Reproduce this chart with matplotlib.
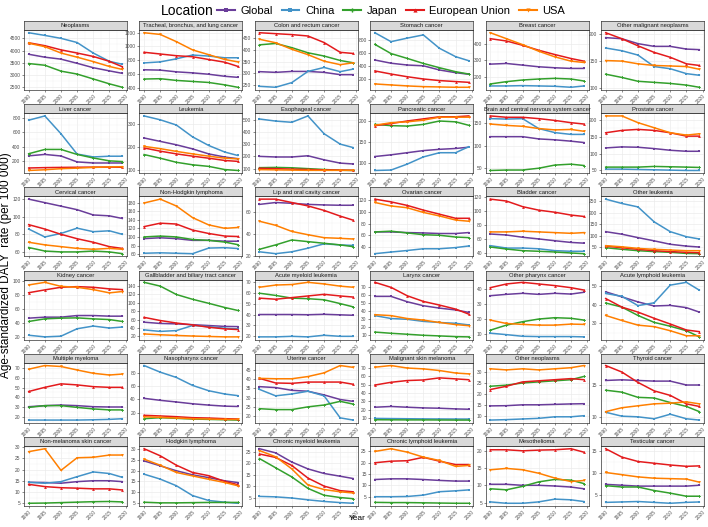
import matplotlib
matplotlib.use("Agg")
import matplotlib.pyplot as plt
from matplotlib.lines import Line2D
from matplotlib.ticker import AutoMinorLocator

plt.rcParams['font.family'] = ['Liberation Sans', 'DejaVu Sans']

years = [1990, 1995, 2000, 2005, 2010, 2015, 2019]
locations = ['Global', 'China', 'Japan', 'European Union', 'USA']
x_ticks = [1990, 1995, 2000, 2005, 2010, 2015, 2020]

# each panel: rows in the order of `locations`
neoplasms = [
    [3850, 3730, 3650, 3480, 3300, 3170, 3070],
    [4730, 4620, 4500, 4330, 3900, 3560, 3440],
    [3470, 3400, 3160, 3040, 2840, 2640, 2500],
    [4320, 4200, 4030, 3900, 3760, 3560, 3340],
    [4300, 4160, 3900, 3730, 3550, 3350, 3230],
]
lung = [
    [660, 655, 630, 615, 595, 565, 550],
    [760, 775, 820, 875, 860, 835, 835],
    [525, 530, 505, 490, 475, 440, 405],
    [915, 890, 865, 850, 810, 770, 710],
    [1200, 1175, 1070, 950, 880, 810, 775],
]
colorectal = [
    [307, 304, 308, 308, 304, 294, 294],
    [244, 240, 260, 308, 325, 307, 318],
    [422, 428, 410, 388, 374, 355, 345],
    [474, 470, 466, 460, 432, 390, 385],
    [446, 431, 403, 380, 352, 337, 345],
]
stomach = [
    [490, 440, 412, 400, 335, 293, 268],
    [914, 775, 830, 880, 672, 542, 480],
    [733, 590, 515, 437, 370, 308, 272],
    [320, 272, 230, 195, 170, 155, 143],
    [118, 102, 87, 76, 71, 66, 66],
]
breast = [
    [276, 280, 270, 260, 254, 250, 250],
    [144, 144, 146, 144, 142, 136, 144],
    [156, 170, 180, 186, 190, 186, 174],
    [430, 416, 390, 360, 334, 310, 294],
    [466, 430, 394, 354, 320, 294, 286],
]
other_malignant = [
    [193, 191, 182, 177, 177, 172, 171],
    [174, 169, 161, 140, 136, 127, 124],
    [126, 120, 113, 111, 109, 106, 102],
    [202, 191, 178, 166, 157, 145, 142],
    [151, 150, 145, 142, 141, 140, 135],
]
liver = [
    [270, 290, 268, 185, 170, 170, 170],
    [770, 830, 580, 295, 255, 265, 265],
    [300, 360, 360, 290, 240, 200, 190],
    [100, 105, 108, 110, 112, 112, 110],
    [65, 75, 90, 98, 108, 115, 118],
]
leukemia = [
    [240, 225, 210, 192, 170, 156, 149],
    [337, 320, 297, 245, 207, 178, 163],
    [167, 151, 133, 122, 115, 101, 97],
    [196, 182, 170, 160, 151, 141, 137],
    [203, 193, 181, 170, 160, 151, 148],
]
esophageal = [
    [200, 195, 195, 205, 172, 145, 138],
    [505, 488, 478, 530, 385, 300, 272],
    [108, 110, 107, 100, 93, 87, 85],
    [103, 100, 96, 93, 90, 88, 86],
    [92, 90, 88, 86, 86, 86, 86],
]
pancreatic = [
    [116, 120, 125, 130, 133, 135, 138],
    [83, 84, 98, 115, 125, 125, 139],
    [192, 189, 188, 192, 200, 198, 190],
    [189, 194, 200, 205, 210, 210, 212],
    [190, 196, 198, 202, 209, 209, 209],
]
brain = [
    [120, 120, 120, 115, 113, 110, 107],
    [160, 159, 160, 138, 129, 125, 125],
    [45, 46, 46, 50, 57, 59, 56],
    [166, 163, 163, 160, 156, 151, 148],
    [148, 145, 143, 138, 135, 136, 132],
]
prostate = [
    [117, 120, 119, 115, 110, 107, 107],
    [54, 54, 53, 52, 51, 50, 50],
    [60, 60, 60, 62, 61, 60, 59],
    [162, 169, 172, 169, 162, 152, 152],
    [212, 212, 192, 177, 162, 155, 159],
]
cervical = [
    [120, 116, 112, 108, 102, 101, 98],
    [86, 77, 81, 87, 83, 84, 80],
    [65, 61, 60, 60, 61, 60, 58],
    [91, 86, 80, 75, 71, 66, 64],
    [71, 68, 66, 64, 63, 64, 63],
]
nhl = [
    [96, 98, 96, 92, 92, 90, 90],
    [62, 63, 62, 61, 74, 75, 73],
    [100, 102, 100, 94, 92, 88, 82],
    [124, 132, 130, 116, 108, 102, 101],
    [179, 188, 172, 145, 128, 120, 122],
]
lip_oral = [
    [67, 68.7, 68, 67, 66.5, 66.2, 66.2],
    [23.7, 22, 23.7, 27, 31, 30, 29.5],
    [26, 30, 34.5, 33, 31.5, 30, 28.4],
    [71.8, 71.8, 68.7, 65.6, 61.5, 56.3, 52.6],
    [51.6, 47.9, 42.3, 39.3, 36.6, 36, 35.4],
]
ovarian = [
    [65.7, 65.7, 64.6, 64, 63, 63, 64.6],
    [28.6, 31.4, 34, 37, 37, 39, 41.7],
    [65.7, 67, 64, 61, 60, 57, 56],
    [121.7, 117, 111, 103, 96, 89, 89],
    [116, 110, 107, 99, 93, 86, 84],
]
bladder = [
    [67, 65.6, 62.4, 60, 57.4, 55, 54],
    [50.4, 47, 47, 46, 43.3, 42.4, 42.4],
    [48.5, 45.6, 43.3, 42.4, 41.4, 40, 39],
    [116.7, 114, 106, 101, 98, 94, 92],
    [70, 70, 71, 70, 69, 68, 69],
]
other_leukemia = [
    [117, 106, 91, 77, 62, 54, 50],
    [259, 240, 225, 160, 117, 95, 85],
    [47, 40, 34, 30, 27, 22, 21],
    [54, 47, 40, 34, 30, 27, 25],
    [56, 51, 44, 40, 37, 34, 34],
]
kidney = [
    [47, 48.4, 48.4, 50.7, 50.7, 49.8, 49.8],
    [22.8, 20.5, 21.5, 32, 35.8, 33, 34.4],
    [42.3, 46, 47, 47.4, 46, 45, 42.3],
    [83, 87, 90.7, 91.6, 90.7, 88.4, 87.4],
    [94, 97.7, 92, 90.7, 87.4, 82.8, 84.7],
]
gallbladder = [
    [54, 51, 50, 48, 46, 44, 43.5],
    [35.7, 32, 34, 46, 43.5, 39.6, 38],
    [149, 140, 120, 108.6, 99, 89, 82],
    [65.5, 58, 52, 47.5, 42, 38, 36.5],
    [26, 24, 22.4, 21, 20, 19, 19],
]
aml = [
    [40, 40, 40, 39.8, 40.2, 39.7, 39.3],
    [19.5, 19.5, 20, 19.5, 21, 20, 20],
    [59.5, 57.5, 55, 54.5, 53.5, 50, 47],
    [55, 54, 55.5, 57, 58.5, 57, 56],
    [65, 67, 67.5, 69.5, 68, 66, 65],
]
larynx = [
    [58.7, 58.7, 52, 47, 44, 41.7, 38.7],
    [34.6, 31, 30, 27.4, 26, 25, 23],
    [14, 12.5, 11.3, 10, 9.2, 8.3, 8],
    [76.3, 70, 59.5, 52.4, 47.8, 42.8, 36.6],
    [35.8, 34.6, 31, 29, 26, 23.4, 22],
]
other_pharynx = [
    [35.7, 36.6, 37.3, 36.6, 37.3, 36.8, 38],
    [10.5, 9.5, 8.4, 8.2, 8.2, 8.2, 8],
    [12.5, 15.9, 18.2, 20, 20.9, 20.5, 19.3],
    [41.1, 43.6, 44.7, 43.6, 42.5, 41.1, 39.5],
    [19.3, 17, 16.4, 15.9, 15.9, 16.6, 16.4],
]
all_leukemia = [
    [46.9, 44.2, 41.5, 39.3, 39.6, 38.4, 36],
    [46, 44.5, 39.5, 41, 50.5, 52, 47.8],
    [40.9, 38.7, 34.2, 30.5, 28.4, 26, 22.7],
    [43.3, 38.7, 36, 32.7, 29.6, 26.4, 25.5],
    [34.2, 31.5, 29, 28.2, 26, 23.3, 23.3],
]
myeloma = [
    [30.3, 31.4, 32, 31.4, 30.3, 30, 30],
    [16.5, 16.5, 16.5, 16.5, 16.8, 17.2, 17.9],
    [29.6, 31.4, 31.4, 29.6, 28, 27, 27],
    [46, 50.3, 53.9, 52.8, 51, 50.3, 50.3],
    [69, 72.8, 71.8, 68.2, 64.8, 63, 64],
]
nasopharynx = [
    [41.5, 38.5, 36, 33.3, 31.3, 29.7, 29.2],
    [91, 81, 73, 61, 53, 48, 45.6],
    [10.8, 12.3, 11.3, 10.3, 9.7, 9.2, 8.7],
    [15.9, 14.9, 13.8, 12.3, 11.8, 10.8, 10.3],
    [13.8, 12.8, 11.8, 10.8, 10.3, 9.7, 9.7],
]
uterine = [
    [36, 35.5, 34, 33.5, 31.5, 29, 28],
    [34.5, 31, 32, 33.5, 31, 19, 17.8],
    [24, 23.5, 23.5, 25, 26, 28, 26.5],
    [40.5, 38, 37.8, 38.5, 38.5, 38.5, 37.3],
    [40.5, 40.3, 40.3, 41.5, 43.5, 47.5, 46.5],
]
melanoma = [
    [23, 23.9, 23, 22.2, 21.8, 21, 20.6],
    [9.6, 9.4, 9.2, 9.0, 8.9, 8.8, 8.8],
    [8, 7.9, 7.8, 7.8, 7.7, 7.6, 7.6],
    [49.6, 52.9, 55, 55.7, 58.2, 57, 56],
    [71, 73, 70, 69, 67, 64, 63],
]
other_neoplasms = [
    [14.5, 14.6, 15, 15, 15.2, 15.4, 15.5],
    [8, 8.2, 8.5, 8.8, 9.5, 9.5, 10],
    [23.5, 24, 25, 25.5, 26, 26.5, 28],
    [22, 23.5, 25.5, 26, 26.5, 27, 26.5],
    [31.5, 31, 31.5, 31, 31.5, 32, 33],
]
thyroid = [
    [15.7, 15.8, 15.7, 15.6, 15.6, 15, 15],
    [10.8, 10.2, 10.1, 9.8, 10.5, 9.8, 9.6],
    [14.2, 13.9, 13.1, 13, 12.3, 11.7, 10.9],
    [18, 17, 15.4, 14.1, 13.4, 12.1, 11.7],
    [10.9, 11.5, 11.8, 12.1, 12.2, 12.4, 12.1],
]
nmsc = [
    [14.4, 14.3, 14, 14.7, 15.1, 15.1, 14.7],
    [14.4, 14, 14.7, 16.9, 19, 18.3, 16.6],
    [5.1, 5.2, 5.4, 5.6, 5.8, 5.9, 5.7],
    [13.5, 12.5, 12, 11.8, 11.5, 11.5, 11],
    [28, 29.3, 19.7, 25.3, 25.5, 26.5, 26.5],
]
hodgkin = [
    [24.6, 22.3, 20, 18.1, 16.8, 15.3, 14.5],
    [18.4, 16.1, 13, 8.4, 6.1, 5.3, 4.8],
    [5.3, 5, 5, 5.1, 5.2, 5.2, 5.2],
    [30.3, 27, 22.6, 19.2, 17.7, 15, 13.5],
    [25.4, 22.6, 19.2, 17.6, 16, 14.5, 13],
]
cml = [
    [26.3, 24.5, 20.5, 17.5, 15.5, 14.3, 13.3],
    [5.5, 5.3, 4.8, 4, 3.3, 2.8, 2.5],
    [22, 18, 14, 9, 6, 5, 4.5],
    [24, 22.5, 19, 13.5, 10, 8, 7.5],
    [25.5, 22.8, 17.5, 10.5, 8.5, 7.5, 7],
]
cll = [
    [12.6, 12.9, 12.9, 12.6, 12.2, 11.9, 11.9],
    [5, 5, 5.1, 5.7, 7.2, 7.6, 8],
    [2.5, 2.4, 2.4, 2.3, 2.2, 2.1, 2.1],
    [20, 20.7, 20.9, 22.4, 20.7, 19.2, 19.2],
    [25, 26.2, 24.7, 22.5, 21, 18.4, 18.8],
]
mesothelioma = [
    [10.3, 10.3, 10, 10, 9.8, 9.5, 9],
    [5.2, 4.8, 4.8, 5.2, 6, 5.8, 5.3],
    [9, 8.7, 9.7, 11, 11.7, 11.5, 10.5],
    [20.3, 20.3, 20, 20.2, 20.3, 20.6, 19.6],
    [14.5, 14.9, 14.5, 13.5, 12.1, 11.1, 11.4],
]
testicular = [
    [7.5, 7.3, 7.1, 7.1, 7.1, 7.1, 7.3],
    [3.4, 3.5, 3.6, 3.4, 3.2, 3.4, 3.5],
    [7.2, 6.9, 6.9, 6.1, 5.5, 4.8, 4.8],
    [15.6, 13.7, 12.7, 12.3, 11.9, 11.6, 11.7],
    [10.2, 9.7, 9.2, 8.9, 8.8, 8.7, 8],
]

panels = [
    ("Neoplasms", neoplasms, [2500, 3000, 3500, 4000, 4500]),
    ("Tracheal, bronchus, and lung cancer", lung, [400, 600, 800, 1000, 1200]),
    ("Colon and rectum cancer", colorectal, [250, 300, 350, 400, 450]),
    ("Stomach cancer", stomach, [200, 400, 600, 800]),
    ("Breast cancer", breast, [200, 300, 400]),
    ("Other malignant neoplasms", other_malignant, [100, 150, 200]),
    ("Liver cancer", liver, [200, 400, 600, 800]),
    ("Leukemia", leukemia, [100, 200, 300]),
    ("Esophageal cancer", esophageal, [100, 200, 300, 400, 500]),
    ("Pancreatic cancer", pancreatic, [100, 150, 200]),
    ("Brain and central nervous system cancer", brain, [50, 100, 150]),
    ("Prostate cancer", prostate, [50, 100, 150, 200]),
    ("Cervical cancer", cervical, [60, 80, 100, 120]),
    ("Non-Hodgkin lymphoma", nhl, [60, 80, 100, 120, 140, 160, 180]),
    ("Lip and oral cavity cancer", lip_oral, [20, 40, 60]),
    ("Ovarian cancer", ovarian, [40, 60, 80, 100, 120]),
    ("Bladder cancer", bladder, [40, 60, 80, 100, 120]),
    ("Other leukemia", other_leukemia, [50, 100, 150, 200, 250]),
    ("Kidney cancer", kidney, [20, 40, 60, 80, 100]),
    ("Gallbladder and biliary tract cancer", gallbladder, [20, 40, 60, 80, 100, 120, 140]),
    ("Acute myeloid leukemia", aml, [20, 30, 40, 50, 60, 70]),
    ("Larynx cancer", larynx, [10, 20, 30, 40, 50, 60, 70]),
    ("Other pharynx cancer", other_pharynx, [10, 20, 30, 40]),
    ("Acute lymphoid leukemia", all_leukemia, [30, 40, 50]),
    ("Multiple myeloma", myeloma, [20, 30, 40, 50, 60, 70]),
    ("Nasopharynx cancer", nasopharynx, [20, 40, 60, 80]),
    ("Uterine cancer", uterine, [20, 25, 30, 35, 40, 45]),
    ("Malignant skin melanoma", melanoma, [10, 20, 30, 40, 50, 60, 70]),
    ("Other neoplasms", other_neoplasms, [10, 15, 20, 25, 30]),
    ("Thyroid cancer", thyroid, [10, 15]),
    ("Non-melanoma skin cancer", nmsc, [5, 10, 15, 20, 25, 30]),
    ("Hodgkin lymphoma", hodgkin, [5, 10, 15, 20, 25, 30]),
    ("Chronic myeloid leukemia", cml, [5, 10, 15, 20, 25]),
    ("Chronic lymphoid leukemia", cll, [5, 10, 15, 20, 25]),
    ("Mesothelioma", mesothelioma, [5, 10, 15, 20]),
    ("Testicular cancer", testicular, [5, 10, 15]),
]

colors = ['#6A3D9A', '#4393C8', '#33A02C', '#E31A1C', '#FF7F00']
markers = ['s', 's', 'P', '^', 'v']

W, H = 708, 527
fig = plt.figure(figsize=(W / 100, H / 100), dpi=100)

for i, (title, series, yt) in enumerate(panels):
    r, c = divmod(i, 6)
    left = 24 + c * 115.4
    top = 21 + r * 83.2
    ax = fig.add_axes([left / W, 1 - (top + 9 + 60) / H, 103 / W, 60 / H])
    st = fig.add_axes([left / W, 1 - (top + 9) / H, 103 / W, 9 / H])
    st.set_facecolor('#D9D9D9')
    st.set_xticks([])
    st.set_yticks([])
    for sp in st.spines.values():
        sp.set_color('#333333')
        sp.set_linewidth(0.5)
    st.text(0.5, 0.45, title, ha='center', va='center', fontsize=4.2,
            color='#1A1A1A', transform=st.transAxes)

    lo = min(min(s) for s in series)
    hi = max(max(s) for s in series)
    pad = (hi - lo) * 0.05
    for s, col, mk in zip(series, colors, markers):
        ax.plot(years, s, color=col, lw=1.1, marker=mk, ms=2.0, mew=0)
    ax.set_xlim(1988.55, 2020.45)
    ax.set_ylim(lo - pad, hi + pad)
    ax.set_xticks(x_ticks)
    ax.set_yticks(yt)
    ax.xaxis.set_minor_locator(AutoMinorLocator(2))
    ax.yaxis.set_minor_locator(AutoMinorLocator(2))
    ax.grid(True, which='major', color='#EBEBEB', lw=0.5)
    ax.grid(True, which='minor', color='#F2F2F2', lw=0.3)
    ax.set_axisbelow(True)
    ax.tick_params(which='major', length=1.5, width=0.4, color='#333333',
                   labelsize=3.5, labelcolor='#4D4D4D', pad=1)
    ax.tick_params(which='minor', length=0)
    for lab in ax.get_xticklabels():
        lab.set_rotation(45)
        lab.set_ha('right')
        lab.set_rotation_mode('anchor')
    for sp in ax.spines.values():
        sp.set_color('#333333')
        sp.set_linewidth(0.5)

fig.text(6 / W, 1 - 265 / H, 'Age-standardized DALY  rate (per 100 000)',
         rotation=90, ha='center', va='center', fontsize=8.5)
fig.text(357 / W, 1 - 518 / H, 'Year', ha='center', va='center', fontsize=6)

fig.text(161 / W, 1 - 11 / H, 'Location', ha='left', va='center', fontsize=10)
handles = [Line2D([], [], color=col, marker=mk, lw=1.5, ms=3, mew=0)
           for col, mk in zip(colors, markers)]
fig.legend(handles, locations, loc='center left',
           bbox_to_anchor=(217 / W, 1 - 11 / H), ncol=5, frameon=False,
           fontsize=8, handlelength=1.6, handletextpad=0.5, columnspacing=0.8,
           borderaxespad=0, borderpad=0)

fig.savefig('out.png', dpi=100)
